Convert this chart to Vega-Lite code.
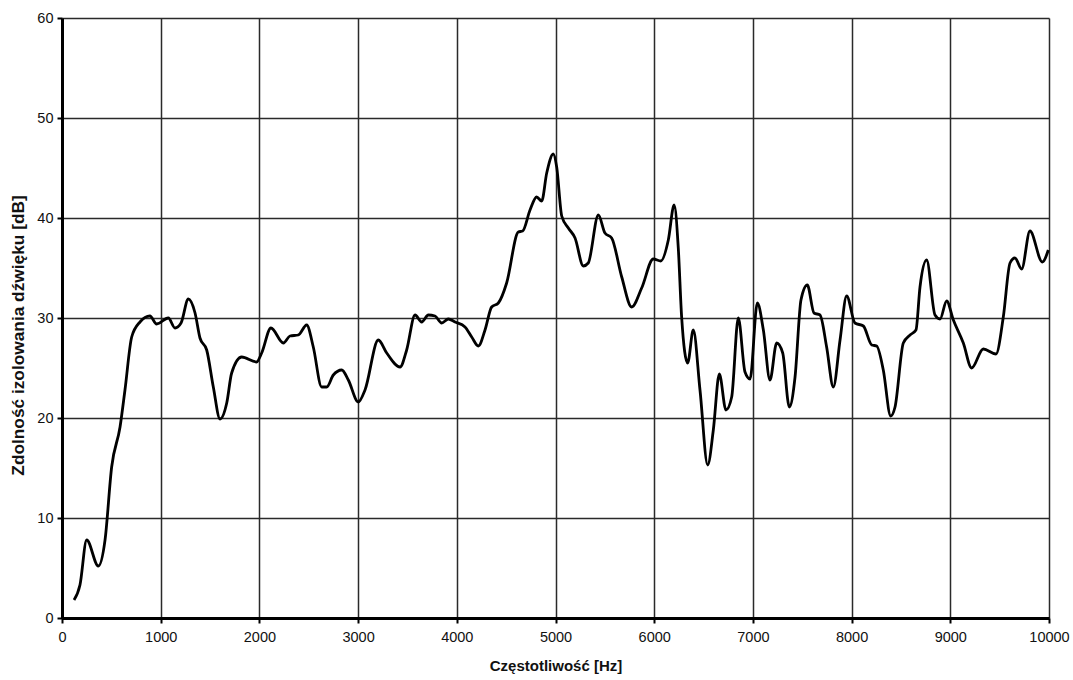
{
  "$schema": "https://vega.github.io/schema/vega-lite/v6.json",
  "autosize": "none",
  "width": 987,
  "height": 600,
  "padding": {"left": 62, "top": 18, "right": 24, "bottom": 62},
  "background": "white",
  "config": {"view": {"stroke": null}},
  "data": {"values": [
    {"f": 122, "db": 1.8}, {"f": 182, "db": 3.3}, {"f": 250, "db": 7.8}, {"f": 368, "db": 5.2},
    {"f": 436, "db": 7.8}, {"f": 503, "db": 15.1}, {"f": 588, "db": 19.1}, {"f": 638, "db": 22.8},
    {"f": 706, "db": 28.1}, {"f": 790, "db": 29.6}, {"f": 891, "db": 30.2}, {"f": 959, "db": 29.4},
    {"f": 1077, "db": 30.0}, {"f": 1145, "db": 29.0}, {"f": 1206, "db": 29.5}, {"f": 1280, "db": 31.9},
    {"f": 1348, "db": 30.5}, {"f": 1398, "db": 28.0}, {"f": 1466, "db": 26.8}, {"f": 1533, "db": 23.1},
    {"f": 1601, "db": 19.9}, {"f": 1669, "db": 21.5}, {"f": 1719, "db": 24.5}, {"f": 1820, "db": 26.1},
    {"f": 1972, "db": 25.6}, {"f": 2023, "db": 26.5}, {"f": 2117, "db": 29.0}, {"f": 2243, "db": 27.5},
    {"f": 2310, "db": 28.2}, {"f": 2394, "db": 28.3}, {"f": 2479, "db": 29.3}, {"f": 2546, "db": 27.1},
    {"f": 2631, "db": 23.1}, {"f": 2682, "db": 23.1}, {"f": 2749, "db": 24.3}, {"f": 2834, "db": 24.8},
    {"f": 2901, "db": 23.8}, {"f": 3002, "db": 21.6}, {"f": 3070, "db": 22.8}, {"f": 3205, "db": 27.8},
    {"f": 3290, "db": 26.5}, {"f": 3425, "db": 25.1}, {"f": 3492, "db": 26.8}, {"f": 3577, "db": 30.3},
    {"f": 3644, "db": 29.6}, {"f": 3712, "db": 30.3}, {"f": 3779, "db": 30.2}, {"f": 3847, "db": 29.5},
    {"f": 3914, "db": 29.9}, {"f": 3982, "db": 29.6}, {"f": 4083, "db": 29.1}, {"f": 4151, "db": 28.1},
    {"f": 4218, "db": 27.2}, {"f": 4286, "db": 28.8}, {"f": 4353, "db": 31.1}, {"f": 4421, "db": 31.5},
    {"f": 4505, "db": 33.5}, {"f": 4623, "db": 38.6}, {"f": 4667, "db": 38.7}, {"f": 4742, "db": 40.8},
    {"f": 4809, "db": 42.1}, {"f": 4860, "db": 41.7}, {"f": 4911, "db": 44.5}, {"f": 4978, "db": 46.4},
    {"f": 5012, "db": 45.1}, {"f": 5063, "db": 40.2}, {"f": 5130, "db": 39.0}, {"f": 5198, "db": 38.0},
    {"f": 5282, "db": 35.2}, {"f": 5332, "db": 35.5}, {"f": 5434, "db": 40.3}, {"f": 5501, "db": 38.5},
    {"f": 5569, "db": 38.0}, {"f": 5671, "db": 34.1}, {"f": 5772, "db": 31.1}, {"f": 5873, "db": 33.0},
    {"f": 5991, "db": 35.9}, {"f": 6067, "db": 35.7}, {"f": 6143, "db": 37.8}, {"f": 6202, "db": 41.3},
    {"f": 6244, "db": 37.0}, {"f": 6278, "db": 30.1}, {"f": 6339, "db": 25.5}, {"f": 6396, "db": 28.8},
    {"f": 6464, "db": 22.8}, {"f": 6542, "db": 15.3}, {"f": 6599, "db": 18.8}, {"f": 6660, "db": 24.4},
    {"f": 6727, "db": 20.8}, {"f": 6785, "db": 22.1}, {"f": 6852, "db": 30.0}, {"f": 6920, "db": 24.6},
    {"f": 6971, "db": 23.9}, {"f": 7045, "db": 31.5}, {"f": 7106, "db": 28.8}, {"f": 7173, "db": 23.8},
    {"f": 7241, "db": 27.5}, {"f": 7302, "db": 26.5}, {"f": 7369, "db": 21.1}, {"f": 7427, "db": 24.1},
    {"f": 7487, "db": 31.8}, {"f": 7551, "db": 33.3}, {"f": 7619, "db": 30.5}, {"f": 7680, "db": 30.3},
    {"f": 7747, "db": 27.1}, {"f": 7815, "db": 23.1}, {"f": 7883, "db": 27.8}, {"f": 7950, "db": 32.2},
    {"f": 8034, "db": 29.5}, {"f": 8119, "db": 29.2}, {"f": 8204, "db": 27.3}, {"f": 8254, "db": 27.2},
    {"f": 8321, "db": 24.8}, {"f": 8396, "db": 20.2}, {"f": 8440, "db": 21.1}, {"f": 8524, "db": 27.5},
    {"f": 8592, "db": 28.3}, {"f": 8652, "db": 28.8}, {"f": 8693, "db": 33.1}, {"f": 8760, "db": 35.8},
    {"f": 8845, "db": 30.3}, {"f": 8896, "db": 29.9}, {"f": 8963, "db": 31.7}, {"f": 9031, "db": 29.8},
    {"f": 9132, "db": 27.5}, {"f": 9216, "db": 25.0}, {"f": 9334, "db": 26.9}, {"f": 9463, "db": 26.4},
    {"f": 9537, "db": 30.1}, {"f": 9605, "db": 35.5}, {"f": 9655, "db": 36.0}, {"f": 9723, "db": 34.9},
    {"f": 9807, "db": 38.7}, {"f": 9932, "db": 35.6}, {"f": 9993, "db": 36.8}
  ]},
  "mark": {"type": "line", "color": "black", "strokeWidth": 2.8, "interpolate": "monotone"},
  "encoding": {
    "x": {
      "field": "f", "type": "quantitative",
      "scale": {"domain": [0, 10000], "nice": false, "zero": false},
      "axis": {
        "title": "Częstotliwość [Hz]", "values": [0,1000,2000,3000,4000,5000,6000,7000,8000,9000,10000],
        "format": "d", "labelFont": "Liberation Sans", "labelFontSize": 14.5, "labelColor": "#111",
        "labelPadding": 7, "labelFlush": false,
        "titleFont": "Liberation Sans", "titleFontSize": 15, "titleFontWeight": "bold", "titleColor": "#111",
        "titlePadding": 15,
        "domainColor": "black", "domainWidth": 3,
        "tickColor": "black", "tickWidth": 2, "tickSize": 5,
        "grid": true, "gridColor": "#2a2a2a", "gridWidth": 1.5
      }
    },
    "y": {
      "field": "db", "type": "quantitative",
      "scale": {"domain": [0, 60], "nice": false},
      "axis": {
        "title": "Zdolność izolowania dźwięku [dB]", "values": [0,10,20,30,40,50,60],
        "labelFont": "Liberation Sans", "labelFontSize": 14.5, "labelColor": "#111",
        "labelPadding": 4,
        "titleFont": "Liberation Sans", "titleFontSize": 17.3, "titleFontWeight": "bold", "titleColor": "#111",
        "titlePadding": 9, "titleY": 317,
        "domainColor": "black", "domainWidth": 3,
        "tickColor": "black", "tickWidth": 2, "tickSize": 5,
        "grid": true, "gridColor": "#2a2a2a", "gridWidth": 1.5
      }
    }
  }
}
